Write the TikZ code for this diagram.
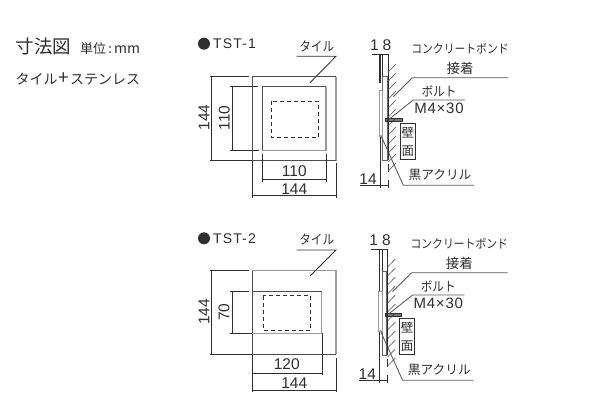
\documentclass[tikz,border=0pt]{standalone}
\usepackage{fontspec}
\setmainfont{Noto Sans CJK JP}
\newfontfamily\condf[FakeStretch=0.88]{Noto Sans CJK JP}
\newfontfamily\latinf{Liberation Sans}
\newfontfamily\latins[LetterSpace=8]{Liberation Sans}
\newfontfamily\latinm[LetterSpace=5]{Liberation Sans}
\definecolor{ink}{HTML}{2E2E2E}
\definecolor{soft}{HTML}{9A9A9A}
\tikzset{
  dimline/.style={draw=ink,line width=0.85pt},
  softline/.style={draw=soft,line width=1.1pt},
  hardline/.style={draw=ink!85,line width=1pt},
  hatchline/.style={draw=ink!80,line width=0.6pt},
  hidden/.style={draw=ink,line width=0.9pt,dash pattern=on 4pt off 3pt},
  lbl/.style={inner sep=0pt,text=ink,font=\fontsize{15.5}{15.5}\selectfont\latinf},
  jp/.style={inner sep=0pt,text=ink,font=\fontsize{13.2}{14}\selectfont\condf},
}
\begin{document}
\begin{tikzpicture}[x=1pt,y=-1pt]
\useasboundingbox (0,0) rectangle (600,420);
\node[jp,anchor=west,font=\fontsize{18.5}{19}\selectfont] (title) at (15.5,46.5) {寸法図};
\node[jp,anchor=west,font=\fontsize{13}{13}\selectfont] (unit) at (80,48.5) {単位\,:\,{\fontsize{14}{14}\selectfont mm}};
\node[jp,anchor=west,font=\fontsize{14}{14}\selectfont] (kind) at (15.5,79) {タイル\hspace{1pt}{\fontsize{19}{14}\selectfont +}\hspace{1pt}ステンレス};
% --- TST-1 front
\fill[ink] (204,43.7) circle (6);
\node[lbl,anchor=west,font=\fontsize{14}{14}\selectfont\latins] (t1) at (213,43.7) {TST-1};
\draw[hardline] (252.3,160.7) -- (252.3,76.7) -- (336,76.7);
\draw[softline] (336,76.7) -- (336,160.7);
\draw[hardline] (252.3,160.7) -- (336,160.7);
\draw[hardline] (262.3,150.7) -- (262.3,86.7) -- (326,86.7);
\draw[softline] (326,86.7) -- (326,150.7) -- (262.3,150.7);
\draw[hidden] (271,101) rectangle (318.3,137.3);
\draw[dimline] (210,76.7) -- (249,76.7) (210,160.7) -- (252,160.7) (211.7,76.7) -- (211.7,160.7);
\draw[dimline] (230,86.7) -- (258,86.7) (230,150.7) -- (259,150.7) (232.7,86.7) -- (232.7,150.7);
\draw[dimline] (262.3,154) -- (262.3,182) (326,154) -- (326,182) (262.3,179.3) -- (326,179.3);
\draw[dimline] (252.3,161) -- (252.3,198) (336,163) -- (336,198) (252.3,195.7) -- (336,195.7);
\node[lbl,rotate=90] (a1) at (204,117.5) {144};
\node[lbl,rotate=90] (b1) at (224.3,118) {110};
\node[lbl] (c1) at (294.3,171) {110};
\node[lbl] (d1) at (294.3,188.7) {144};
\node[jp] (e1) at (316.7,46) {タイル};
\draw[dimline] (296.7,56.3) -- (336,56.3) -- (310,82.7);
% --- TST-2 front
\fill[ink] (204,238.3) circle (6);
\node[lbl,anchor=west,font=\fontsize{14}{14}\selectfont\latins] (t2) at (213,238.3) {TST-2};
\draw[softline] (252.3,270.7) -- (336,270.7) -- (336,354.3);
\draw[hardline] (252.3,354.3) -- (252.3,270.7);
\draw[hardline] (252.3,354.3) -- (336,354.3);
\draw[hardline] (252.3,291.7) -- (321.7,291.7);
\draw[softline] (321.7,291.7) -- (321.7,333.3) -- (252.3,333.3);
\draw[hidden] (263.3,295.7) rectangle (310.7,330);
\draw[dimline] (210,270.7) -- (249,270.7) (210,354.3) -- (252,354.3) (211.7,270.7) -- (211.7,354.3);
\draw[dimline] (230,291.7) -- (249,291.7) (230,333.3) -- (252,333.3) (232.7,291.7) -- (232.7,333.3);
\draw[dimline] (252.3,354) -- (252.3,392) (322.3,333) -- (322.3,375) (252.3,373.7) -- (322.3,373.7);
\draw[dimline] (336,358) -- (336,392) (252.3,390.3) -- (336,390.3);
\node[lbl,rotate=90] (a2) at (204,311.7) {144};
\node[lbl,rotate=90] (b2) at (224,312) {70};
\node[lbl] (c2) at (286.7,364) {120};
\node[lbl] (d2) at (294.3,382.7) {144};
\node[jp] (e2) at (316.7,239) {タイル};
\draw[dimline] (296.7,250) -- (336,250) -- (310,276);
% --- sections: shared parts
\foreach \dy/\dx/\id in {0/0/s,195/-0.7/u}{
\begin{scope}[shift={(\dx,\dy)}]
\draw[dimline] (371.7,54.5) -- (388.3,54.5);
\draw[dimline] (388.3,54.5) -- (388.3,160);
\draw[dimline] (388.3,164) -- (388.3,172) (388.3,180) -- (388.3,188);
\draw[dimline] (382.7,54.5) -- (382.7,76.7);
\draw[dimline,draw=ink!75] (382.7,76.7) rectangle (387,160);
\draw[dimline] (380,136) -- (380,188) (360,185.5) -- (388.3,185.5);
\foreach \yy in {72,81,...,171}{\draw[hatchline] (388.3,\yy) -- (396,\yy-8);}
\draw[dimline,fill=ink,fill opacity=.65] (385.7,118) rectangle (402,121.5);
\draw[dimline,line width=1pt] (400.3,123.7) rectangle (415.3,159.7);
\draw[dimline,draw=ink!80] (393.3,96.7) -- (412.3,77.7) -- (508.3,77.7);
\draw[dimline,draw=ink!80] (389.3,119) -- (413.3,100) -- (465,100);
\draw[dimline,draw=ink!80] (380.7,135) -- (403.3,185.3) -- (474,185.3);
\node[lbl] (n18\id) at (380.7,45) {1\hspace{4pt}8};
\node[lbl] (n14\id) at (368,179) {14};
\node[jp,font=\fontsize{12.3}{13}\selectfont\condf] (bond\id) at (460,48.3) {コンクリートボンド};
\node[jp,font=\fontsize{13.5}{14}\selectfont] (glue\id) at (460,68) {接着};
\node[jp] (bolt\id) at (439,91) {ボルト};
\node[lbl,font=\fontsize{15}{15}\selectfont\latinm] (m4\id) at (439,108) {M4×30};
\node[jp,font=\fontsize{12.7}{14}\selectfont] (ac\id) at (440,175) {黒アクリル};
\node[jp,font=\fontsize{12.5}{14}\selectfont] (w1\id) at (407.8,133) {壁};
\node[jp,font=\fontsize{12.5}{14}\selectfont] (w2\id) at (407.8,151) {面};
\end{scope}}
% --- differences between the two sections
\draw[ink,line width=1.5pt] (380,54.5) -- (380,83);
\draw[soft,line width=0.9pt] (379,90) rectangle (382.5,136);
\draw[ink,line width=1.3pt] (388.3,118) -- (388.3,160);
\draw[ink,line width=0.8pt] (379.3,249.5) -- (379.3,291.7);
\draw[soft,line width=0.9pt] (378.7,291.7) rectangle (382,331.7);
\draw[ink,line width=1.5pt] (387.6,263) -- (387.6,353);
\end{tikzpicture}
\end{document}
